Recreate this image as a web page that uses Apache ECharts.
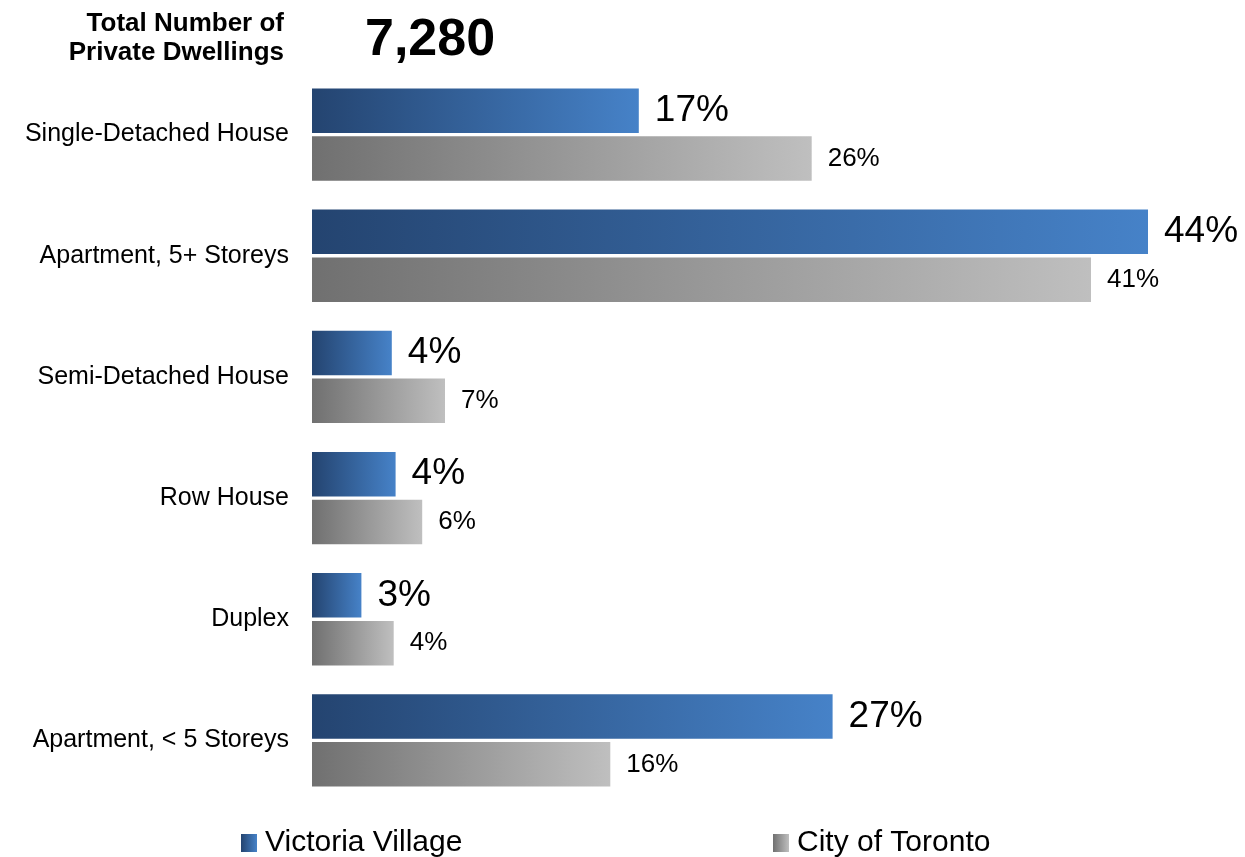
<!DOCTYPE html>
<html>
<head>
<meta charset="utf-8">
<script src="https://cdn.jsdelivr.net/npm/echarts@6/dist/echarts.min.js"></script>
<style>
html,body{margin:0;padding:0;background:#fff;}
#chart{width:1245px;height:857px;}
</style>
</head>
<body>
<div id="chart"></div>
<script>
const categories = ['Single-Detached House', 'Apartment, 5+ Storeys', 'Semi-Detached House', 'Row House', 'Duplex', 'Apartment, < 5 Storeys'];
const seriesNames = ['Victoria Village', 'City of Toronto'];
const victoriaVillage = [17.2, 44.0, 4.2, 4.4, 2.6, 27.4];
const cityOfToronto = [26.3, 41.0, 7.0, 5.8, 4.3, 15.7];
const headerLines = ['Total Number of', 'Private Dwellings'];
const totalDwellings = '7,280';

const FONT = '"Liberation Sans", Arial, sans-serif';
const blueGrad = new echarts.graphic.LinearGradient(0, 0, 1, 0, [
  {offset: 0, color: '#244470'}, {offset: 1, color: '#4682c8'}
]);
const grayGrad = new echarts.graphic.LinearGradient(0, 0, 1, 0, [
  {offset: 0, color: '#707070'}, {offset: 1, color: '#bfbfbf'}
]);

const chart = echarts.init(document.getElementById('chart'), null, {renderer: 'canvas'});
chart.setOption({
  animation: false,
  backgroundColor: '#ffffff',
  textStyle: {fontFamily: FONT},
  grid: {left: 312, right: 21, top: 74, height: 727, containLabel: false},
  xAxis: {
    type: 'value', min: 0, max: 48, show: false
  },
  yAxis: {
    type: 'category', data: categories, inverse: true,
    axisLine: {show: false}, axisTick: {show: false}, splitLine: {show: false},
    axisLabel: {margin: 23, fontSize: 25, color: '#000', fontFamily: FONT, padding: [4, 0, 0, 0]}
  },
  legend: [
    {data: [seriesNames[0]], left: 236, top: 823, itemWidth: 16, itemHeight: 18,
     icon: 'rect', textStyle: {fontSize: 30, color: '#000', fontFamily: FONT, padding: [0,0,0,3]}},
    {data: [seriesNames[1]], left: 768, top: 823, itemWidth: 16, itemHeight: 18,
     icon: 'rect', textStyle: {fontSize: 30, color: '#000', fontFamily: FONT, padding: [0,0,0,3]}}
  ],
  graphic: [
    {type: 'text', right: 1245 - 284, top: 11,
     style: {text: headerLines[0], font: 'bold 26px ' + FONT, fill: '#000'}},
    {type: 'text', right: 1245 - 284, top: 40,
     style: {text: headerLines[1], font: 'bold 26px ' + FONT, fill: '#000'}},
    {type: 'text', left: 365, top: 15,
     style: {text: totalDwellings, font: 'bold 52px ' + FONT, fill: '#000'}}
  ],
  series: [
    {
      name: seriesNames[0], type: 'bar', data: victoriaVillage,
      barWidth: 44.5, barGap: '7.5%',
      itemStyle: {color: blueGrad},
      label: {show: true, position: 'right', distance: 16, fontSize: 37, color: '#000', fontFamily: FONT,
        formatter: p => Math.round(p.value) + '%'}
    },
    {
      name: seriesNames[1], type: 'bar', data: cityOfToronto,
      barWidth: 44.5, barGap: '7.5%',
      itemStyle: {color: grayGrad},
      label: {show: true, position: 'right', distance: 16, fontSize: 26, color: '#000', fontFamily: FONT,
        formatter: p => Math.round(p.value) + '%'}
    }
  ]
});
</script>
</body>
</html>
